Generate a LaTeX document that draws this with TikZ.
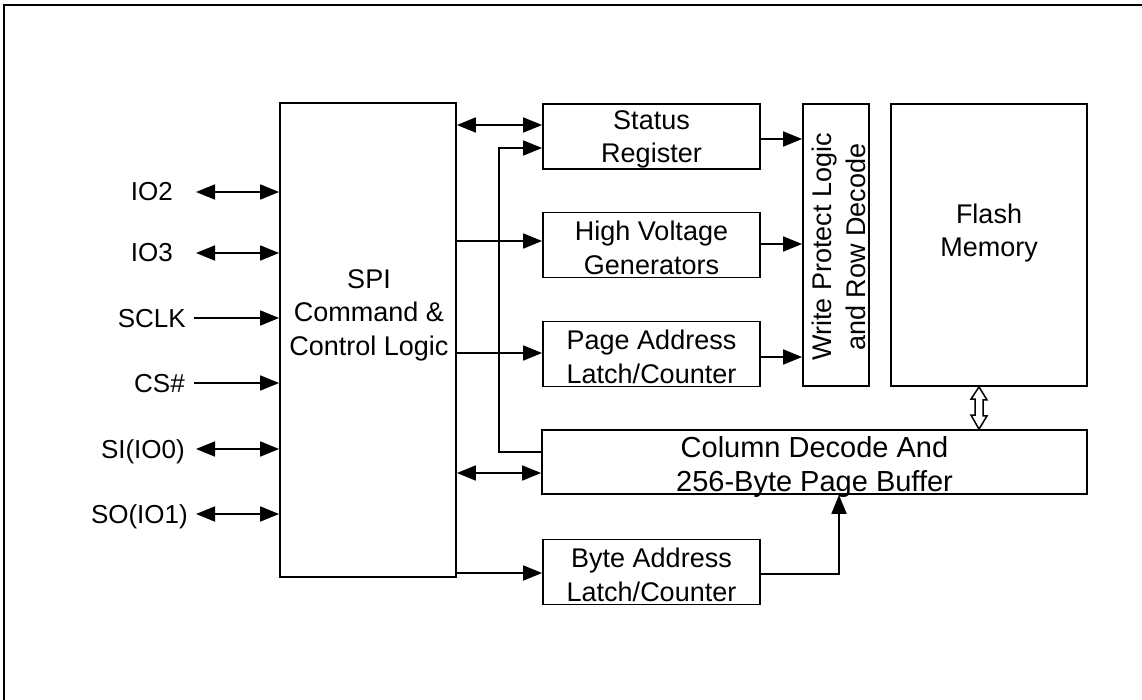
\documentclass[tikz,border=0pt]{standalone}
\usepackage{fontspec}
\setmainfont{Liberation Sans}
\usetikzlibrary{arrows.meta}
\begin{document}
\begin{tikzpicture}[x=1pt,y=-1pt,
  blk/.style={draw, line width=1.8pt, inner sep=0pt},
  txt/.style={inner sep=0pt, align=center, font=\fontsize{27}{33.5}\selectfont},
  bigtxt/.style={txt, font=\fontsize{29}{34}\selectfont},
  lbl/.style={anchor=base east, inner sep=0pt, font=\fontsize{26}{30}\selectfont},
  wire/.style={line width=1.8pt},
  arr/.style={wire, -{Triangle[length=19pt,width=15pt]}},
  barr/.style={wire, {Triangle[length=19pt,width=15pt]}-{Triangle[length=19pt,width=15pt]}},
]
\clip (0,0) rectangle (1142,700);
\draw[line width=2pt] (4,5) rectangle (1170,730);

% blocks
\node[blk, minimum width=176pt, minimum height=474pt] (spi) at (368,340) {};
\node[txt] (spit) at (369,315) {SPI\\Command \&\\Control Logic};

\node[blk, minimum width=217pt, minimum height=65pt] (sr) at (651.5,136.5) {};
\node[txt] (srt) at ([yshift=-3pt]sr.center) {Status\\Register};

\node[blk, minimum width=217pt, minimum height=65pt] (hv) at (651.5,245) {};
\node[txt] (hvt) at ([yshift=-3pt]hv.center) {High Voltage\\Generators};

\node[blk, minimum width=217pt, minimum height=65pt] (pa) at (651.5,354) {};
\node[txt] (pat) at ([yshift=-3pt]pa.center) {Page Address\\Latch/Counter};

\node[blk, minimum width=217pt, minimum height=65pt] (ba) at (651.5,572) {};
\node[txt] (bat) at ([yshift=-3pt]ba.center) {Byte Address\\Latch/Counter};

\node[blk, minimum width=545pt, minimum height=64pt] (cd) at (814.5,462) {};
\node[bigtxt] (cdt) at ([yshift=-5pt]cd.center) {Column Decode And\\256-Byte Page Buffer};

\node[blk, minimum width=66pt, minimum height=282pt] (wp) at (836,245) {};
\node[txt, rotate=90] (wpt) at (839,247) {Write Protect Logic\\and Row Decode};

\node[blk, minimum width=196pt, minimum height=282pt] (fm) at (989,245) {};
\node[txt] (fmt) at (989,233) {Flash\\Memory};

% left signals
\node[lbl] (io2) at (173,201) {IO2};
\node[lbl] (io3) at (173,262) {IO3};
\node[lbl] (sclk) at (186,327) {SCLK};
\node[lbl] (cs) at (185,392) {CS\#};
\node[lbl] (si) at (185,458) {SI(IO0)};
\node[lbl] (so) at (188,523) {SO(IO1)};

\coordinate (io2s) at (196,192);
\coordinate (io3s) at (196,253);
\coordinate (sclks) at (194,318);
\coordinate (css) at (194,383);
\coordinate (sis) at (196,449);
\coordinate (sos) at (196,514);

\draw[barr] (io2s) -- (io2s -| spi.west);
\draw[barr] (io3s) -- (io3s -| spi.west);
\draw[arr] (sclks) -- (sclks -| spi.west);
\draw[arr] (css) -- (css -| spi.west);
\draw[barr] (sis) -- (sis -| spi.west);
\draw[barr] (sos) -- (sos -| spi.west);

% SPI to blocks
\draw[barr] (spi.east |- 0,125) -- (sr.west |- 0,125);
\draw[arr] (spi.east |- 0,241) -- (hv.west |- 0,241);
\draw[arr] (spi.east |- 0,353) -- (pa.west |- 0,353);
\draw[barr] (spi.east |- 0,473) -- (cd.west |- 0,473);
\draw[arr] (spi.east |- 0,573) -- (ba.west |- 0,573);

% column decode feedback to status register
\draw[arr] (cd.west |- 0,452) -- (499,452) |- (sr.west |- 0,148);

% blocks to write protect
\draw[arr] (sr.east |- 0,139) -- (wp.west |- 0,139);
\draw[arr] (hv.east |- 0,244) -- (wp.west |- 0,244);
\draw[arr] (pa.east |- 0,357) -- (wp.west |- 0,357);

% byte address to column decode
\draw[arr] (ba.east |- 0,574) -| (cd.south -| 839,0);

% hollow double arrow flash <-> column decode
\coordinate (ht) at (fm.south -| 979,0);
\coordinate (hb) at (cd.north -| 979,0);
\draw[line width=1.5pt, fill=white] (ht) -- ++(8,13) -- ++(-4,0) -- ++(0,16) -- ++(4,0) -- (hb)
  -- ++(-8,-14) -- ++(4,0) -- ++(0,-16) -- ++(-4,0) -- cycle;
\end{tikzpicture}
\end{document}
